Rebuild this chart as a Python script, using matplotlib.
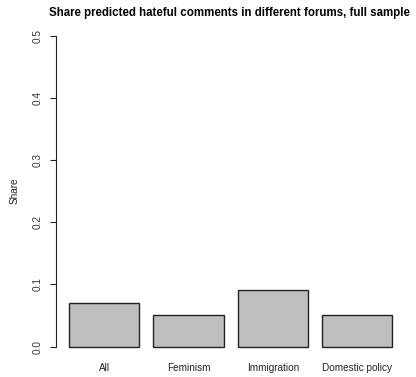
import numpy as np
import matplotlib.pyplot as plt

plt.rcParams['font.family'] = ['Liberation Sans', 'DejaVu Sans']

forums = ['All', 'Feminism', 'Immigration', 'Domestic policy']
share = [0.070, 0.050, 0.091, 0.051]
yticks = [0.0, 0.1, 0.2, 0.3, 0.4, 0.5]

# barplot layout: width 1, space 0.2
width = 1.0
space = 0.2
left = space + np.arange(len(forums)) * (width + space)
centers = left + width / 2

fig = plt.figure(figsize=(4.16, 3.77), dpi=100)
ax = fig.add_axes([0.1349, 0.0477, 0.8394, 0.891])

ax.bar(centers, share, width=width, color='#BEBEBE', edgecolor='#222222', linewidth=1.0)

x0, x1 = left[0], left[-1] + width
ax.set_xlim(x0 - 0.04 * (x1 - x0), x1 + 0.04 * (x1 - x0))
ax.set_ylim(-0.02, 0.52)

for s in ['top', 'right', 'bottom']:
    ax.spines[s].set_visible(False)
ax.spines['left'].set_bounds(0, 0.5)
ax.spines['left'].set_color('#222222')

ax.set_yticks(yticks)
ax.set_yticklabels([f'{v:.1f}' for v in yticks], rotation=90, va='center', fontsize=7.2, color='#333333')
ax.tick_params(axis='y', length=4.5, width=0.8, color='#222222', pad=5)

ax.set_xticks(centers)
ax.set_xticklabels(forums, fontsize=7.2, color='#222222')
ax.tick_params(axis='x', length=0, pad=3)

fig.text(229 / 416, 1 - 13 / 377, 'Share predicted hateful comments in different forums, full sample',
         ha='center', va='center', fontsize=8.3, fontweight='bold')
fig.text(15 / 416, 0.5 * (0.0477 + 0.0477 + 0.891), 'Share', rotation=90,
         ha='center', va='center', fontsize=7.2, color='#222222')

fig.savefig('out.png', dpi=100)
